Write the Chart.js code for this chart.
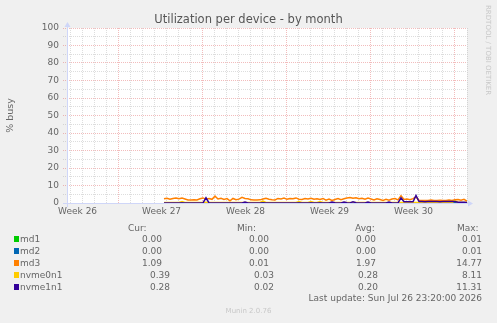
<!DOCTYPE html>
<html>
<head>
<meta charset="utf-8">
<script src="https://cdn.jsdelivr.net/npm/chart.js@4.4.1/dist/chart.umd.min.js"></script>
<style>
html,body{margin:0;padding:0;background:#f0f0f0;}
#wrap{position:relative;width:497px;height:323px;overflow:hidden;background:#f0f0f0;font-family:"DejaVu Sans",sans-serif;color:#666;}
#c{position:absolute;left:0;top:0;}
.t{position:absolute;white-space:pre;font-size:9px;line-height:12px;}
.sq{position:absolute;width:5px;height:6px;}
#title{position:absolute;left:0;width:497px;top:12px;text-align:center;font-size:11.5px;line-height:14px;color:#555;}
#side{position:absolute;left:483px;top:5px;writing-mode:vertical-rl;font-size:7px;line-height:9px;color:#c8c8c8;white-space:nowrap;}
#munin{position:absolute;left:0;width:497px;text-align:center;top:305px;font-size:7px;line-height:12px;color:#c8c8c8;}
</style>
</head>
<body>
<div id="wrap">
<canvas id="c" width="497" height="323"></canvas>
<div id="title">Utilization per device - by month</div>
<div id="side">RRDTOOL / TOBI OETIKER</div>
<div id="legend"></div>
<div id="munin">Munin 2.0.76</div>
</div>
<script>
// ---- data ----
const categories = ['md1', 'md2', 'md3', 'nvme0n1', 'nvme1n1'];
const seriesColors = ['#00cc00', '#0066b3', '#ff8000', '#ffcc00', '#330099'];
// samples: days after Sun 2026-06-28 00:00, every 6 hours
const sampleStartDay = 3.75;
const sampleStepDay = 0.25;

const md1 = [
0,0,0,0,0,0,0,0,0,0,0,0,0,0,0,0,0,
0,0,0,0,0,0,0,0,0,0,0,0,0,0,0,0,0,
0,0,0,0,0,0,0,0,0,0,0,0,0,0,0,0,0,
0,0,0,0,0,0,0,0,0,0,0,0,0,0,0,0,0,
0,0,0,0,0,0,0,0,0,0,0,0,0,0,0,0,0,
0,0,0,0,0,0,0,0,0,0,0,0,0,0,0,0,0
];
const md2 = [
0,0,0,0,0,0,0,0,0,0,0,0,0,0,0,0,0,
0,0,0,0,0,0,0,0,0,0,0,0,0,0,0,0,0,
0,0,0,0,0,0,0,0,0,0,0,0,0,0,0,0,0,
0,0,0,0,0,0,0,0,0,0,0,0,0,0,0,0,0,
0,0,0,0,0,0,0,0,0,0,0,0,0,0,0,0,0,
0,0,0,0,0,0,0,0,0,0,0,0,0,0,0,0,0
];
const md3 = [
2.4,2.7,2.2,2.6,2.9,2.5,2.8,2.3,1.7,1.7,
1.8,1.7,2.4,2.9,2.2,2.6,2.1,3.9,2.3,2.7,
2.0,2.5,1.2,2.6,1.9,2.2,3.2,2.6,2.4,1.8,
1.7,1.7,1.8,2.3,2.7,2.2,1.8,1.7,2.6,2.3,
2.8,2.1,2.6,2.4,2.9,2.2,2.0,2.5,2.3,2.7,
2.1,2.4,2.0,2.6,1.6,2.2,1.4,2.0,2.5,1.9,
2.4,2.8,3.1,2.7,3.0,2.4,2.7,2.2,2.8,2.3,
1.7,2.4,2.0,1.5,2.1,1.6,2.3,2.6,1.8,4.1,
2.0,2.3,1.9,2.5,3.4,1.5,1.5,1.4,1.5,1.7,
1.4,1.5,1.6,1.4,1.5,1.7,1.4,1.9,2.0,1.6,
2.1,1.09
];
const nvme0n1 = [
0.3,0.35,0.3,0.25,0.3,0.35,0.9,0.3,0.25,0.3,0.3,0.35,0.3,0.25,0.4,0.3,0.3,
0.35,0.3,0.25,0.3,0.3,0.35,0.3,0.3,0.25,0.3,0.35,0.3,0.3,0.25,0.3,0.35,1.1,
0.3,0.25,0.3,0.35,0.3,0.3,0.25,0.3,0.3,0.35,0.3,0.8,0.3,0.25,0.3,0.9,0.3,
0.25,0.9,0.3,0.35,0.3,0.25,0.3,0.3,0.35,0.3,0.25,0.3,0.3,0.35,0.3,0.25,0.3,
0.3,0.35,0.3,0.25,0.3,0.3,0.35,0.3,0.25,0.3,0.3,0.35,0.3,0.25,0.3,0.3,0.35,
0.3,0.25,0.3,0.3,0.35,0.3,0.25,0.3,0.3,0.35,0.3,0.25,1.4,0.3,0.35,0.3,0.39
];
const nvme1n1 = [
0.05,0.04,0.06,0.05,0.05,0.04,0.06,0.05,0.05,0.04,0.06,0.05,0.05,0.05,3.0,0.06,0.05,
0.04,0.05,0.06,0.05,0.05,0.04,0.05,0.06,0.05,0.05,0.6,0.04,0.05,0.06,0.05,0.05,0.04,
0.05,0.06,0.05,0.04,0.05,0.05,0.06,0.05,0.04,0.05,0.05,0.06,0.05,0.05,0.04,0.05,0.06,
0.05,0.05,0.04,0.05,0.06,0.5,0.2,0.05,0.05,0.6,0.1,0.05,0.7,0.1,0.05,0.06,0.05,
0.5,0.05,0.04,0.05,0.06,0.05,0.05,0.6,0.05,0.04,0.05,3.0,0.7,0.7,0.7,0.7,4.3,
0.8,0.8,0.75,0.8,0.85,0.8,0.8,0.75,0.8,0.8,0.85,0.8,0.8,0.5,0.5,0.45,0.28
];
const seriesValues = [md1, md2, md3, nvme0n1, nvme1n1];

const curVals = ['0.00', '0.00', '1.09', '0.39', '0.28'];
const minVals = ['0.00', '0.00', '0.01', '0.03', '0.02'];
const avgVals = ['0.00', '0.00', '1.97', '0.28', '0.20'];
const maxVals = ['0.01', '0.01', '14.77', '8.11', '11.31'];

const weekLabels = ['Week 26', 'Week 27', 'Week 28', 'Week 29', 'Week 30'];
const weekLabelDays = [-3.45, 3.55, 10.55, 17.55, 24.55];
const yTickLabels = ['0', '10', '20', '30', '40', '50', '60', '70', '80', '90', '100'];
const lastUpdate = 'Last update: Sun Jul 26 23:20:00 2026';

const xMinDay = -4.3333;
const xMaxDay = 29.0;

// ---- styles ----
const RED = 'rgba(222,79,79,0.38)';
const GRAY = 'rgba(150,150,150,0.32)';
const AXIS = '#CFD6F8';
const FONT = '"DejaVu Sans", sans-serif';

// ---- legend (HTML text) ----
const legend = document.getElementById('legend');
function addText(txt, left, right, top) {
  const d = document.createElement('div');
  d.className = 't';
  d.textContent = txt;
  d.style.top = top + 'px';
  if (right != null) { d.style.right = (497 - right) + 'px'; d.style.textAlign = 'right'; }
  else d.style.left = left + 'px';
  legend.appendChild(d);
}
addText('Cur:', 128, null, 222);
addText('Min:', 237, null, 222);
addText('Avg:', 355, null, 222);
addText('Max:', 457, null, 222);
const rowTops = [233, 245, 257, 269, 281];
const colRight = { cur: [162, 170], min: [269, 274], avg: [376, 378], max: [482, 482] };
categories.forEach((name, i) => {
  const long = name.length > 3 ? 1 : 0;
  const sq = document.createElement('div');
  sq.className = 'sq';
  sq.style.left = '14px';
  sq.style.top = (rowTops[i] + 3) + 'px';
  sq.style.background = seriesColors[i];
  legend.appendChild(sq);
  addText(name, 20, null, rowTops[i]);
  addText(curVals[i], null, colRight.cur[long], rowTops[i]);
  addText(minVals[i], null, colRight.min[long], rowTops[i]);
  addText(avgVals[i], null, colRight.avg[long], rowTops[i]);
  addText(maxVals[i], null, colRight.max[long], rowTops[i]);
});
addText(lastUpdate, null, 482, 292);

// ---- chart ----
const datasets = categories.map((name, i) => ({
  label: name,
  data: seriesValues[i].map((v, k) => ({ x: sampleStartDay + k * sampleStepDay, y: v })),
  borderColor: seriesColors[i],
  backgroundColor: seriesColors[i],
  borderWidth: 1.5,
  pointRadius: 0,
  tension: 0,
  fill: false,
  order: categories.length - 1 - i
}));

const xTickValues = [];
for (let d = Math.ceil(xMinDay); d <= Math.floor(xMaxDay); d++) xTickValues.push(d);
weekLabelDays.forEach(v => xTickValues.push(v));
xTickValues.sort((a, b) => a - b);

const plotBg = {
  id: 'plotBg',
  beforeDraw(chart) {
    const { ctx, chartArea: a } = chart;
    ctx.save();
    ctx.fillStyle = '#ffffff';
    ctx.fillRect(a.left, a.top, a.right - a.left, a.bottom - a.top);
    ctx.restore();
  }
};
const axisPlugin = {
  id: 'axisPlugin',
  afterDatasetsDraw(chart) {
    const { ctx, chartArea: a } = chart;
    ctx.save();
    ctx.strokeStyle = AXIS;
    ctx.fillStyle = AXIS;
    ctx.lineWidth = 1;
    ctx.beginPath();
    ctx.moveTo(a.left - 4, a.bottom + 0.5);
    ctx.lineTo(a.right + 2, a.bottom + 0.5);
    ctx.moveTo(a.left + 0.5, a.bottom + 4);
    ctx.lineTo(a.left + 0.5, a.top - 2);
    ctx.stroke();
    ctx.beginPath();
    ctx.moveTo(a.right + 1, a.bottom + 0.5 - 3);
    ctx.lineTo(a.right + 6, a.bottom + 0.5);
    ctx.lineTo(a.right + 1, a.bottom + 0.5 + 3);
    ctx.closePath();
    ctx.fill();
    ctx.beginPath();
    ctx.moveTo(a.left + 0.5 - 3, a.top - 1);
    ctx.lineTo(a.left + 0.5, a.top - 6);
    ctx.lineTo(a.left + 0.5 + 3, a.top - 1);
    ctx.closePath();
    ctx.fill();
    ctx.restore();
  }
};

function xGridColor(c) {
  const v = c.tick ? c.tick.value : null;
  if (v == null || !Number.isInteger(v)) return 'rgba(0,0,0,0)';
  return (((v % 7) + 7) % 7 === 0) ? RED : GRAY;
}
function yGridColor(c) {
  const v = c.tick ? c.tick.value : null;
  if (v == null) return 'rgba(0,0,0,0)';
  return (v % 10 === 0) ? RED : GRAY;
}

new Chart(document.getElementById('c'), {
  type: 'line',
  data: { datasets },
  plugins: [plotBg, axisPlugin],
  options: {
    responsive: false,
    animation: false,
    devicePixelRatio: 1,
    layout: { padding: { top: 28, right: 30, bottom: 100, left: 0 } },
    plugins: { legend: { display: false }, tooltip: { enabled: false }, title: { display: false } },
    scales: {
      x: {
        type: 'linear',
        min: xMinDay,
        max: xMaxDay,
        bounds: 'data',
        afterBuildTicks: (s) => { s.ticks = xTickValues.map(v => ({ value: v })); },
        afterFit: (s) => { s.height = 20; },
        grid: { color: xGridColor, lineWidth: 1, drawTicks: false },
        border: { display: false, dash: [1, 1] },
        ticks: {
          autoSkip: false, maxRotation: 0, minRotation: 0, padding: 3,
          color: '#666', font: { family: FONT, size: 9 },
          callback: (v) => { const k = weekLabelDays.indexOf(v); return k >= 0 ? weekLabels[k] : ''; }
        }
      },
      y: {
        min: 0,
        max: 100,
        afterFit: (s) => { s.width = 67; },
        grid: { color: yGridColor, tickColor: yGridColor, lineWidth: 1, drawTicks: true, tickLength: 4, tickBorderDash: [1, 1] },
        border: { display: false, dash: [1, 1] },
        ticks: {
          stepSize: 5, padding: 4, autoSkip: false,
          color: '#666', font: { family: FONT, size: 9 },
          callback: (v) => (v % 10 === 0 ? yTickLabels[v / 10] : '')
        },
        title: { display: true, text: '% busy', color: '#666', font: { family: FONT, size: 9.5 }, padding: { top: 5, bottom: 0 } }
      }
    }
  }
});
</script>
</body>
</html>
